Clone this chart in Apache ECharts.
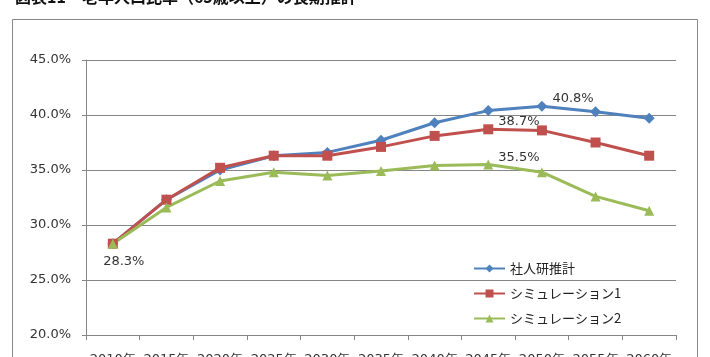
<!DOCTYPE html>
<html lang="ja">
<head>
  <meta charset="UTF-8">
  <title>老年人口比率の長期推計</title>
  <style>
    html, body {margin: 0; padding: 0; background: #fff;}
    #chart {width: 710px; height: 357px;}
  </style>
</head>
<body>
  <div id="chart"></div>
  <script src="https://cdn.jsdelivr.net/npm/echarts@6/dist/echarts.min.js"></script>
  <script>
    // データ（%）
    var years = ['2010年', '2015年', '2020年', '2025年', '2030年', '2035年', '2040年', '2045年', '2050年', '2055年', '2060年'];
    var ipss = [28.3, 32.3, 35.0, 36.3, 36.6, 37.7, 39.3, 40.4, 40.8, 40.3, 39.7];
    var sim1 = [28.3, 32.3, 35.2, 36.3, 36.3, 37.1, 38.1, 38.7, 38.6, 37.5, 36.3];
    var sim2 = [28.3, 31.6, 34.0, 34.8, 34.5, 34.9, 35.4, 35.5, 34.8, 32.6, 31.3];
    var seriesNames = ['社人研推計', 'シミュレーション1', 'シミュレーション2'];

    var latin = '"DejaVu Sans", Verdana, sans-serif';
    var cjk = '"Noto Sans CJK JP", sans-serif';

    // 指定した点だけラベルを出す
    function withLabel(arr, idx, label) {
      return arr.map(function (v, i) {
        if (i !== idx) return v;
        return {value: v, label: Object.assign({show: true}, label)};
      });
    }
    var labelBase = {
      formatter: function (p) { return p.value.toFixed(1) + '%'; },
      fontFamily: latin,
      fontSize: 13,
      color: '#333'
    };

    var chart = echarts.init(document.getElementById('chart'));
    var option = {
      animation: false,
      title: {
        text: '図表11　老年人口比率（65歳以上）の長期推計',
        left: 10,
        top: -16,
        textStyle: {fontFamily: cjk, fontSize: 16, fontWeight: 'bold', color: '#111'}
      },
      graphic: [{
        type: 'rect',
        shape: {x: 12.5, y: 19.5, width: 685, height: 360},
        style: {fill: 'none', stroke: '#888', lineWidth: 1}
      }],
      color: ['#4F81BD', '#C0504D', '#9BBB59'],
      legend: {
        orient: 'vertical',
        left: 468,
        top: 257,
        itemGap: 12,
        itemWidth: 31,
        itemHeight: 10,
        textStyle: {fontFamily: cjk, fontSize: 13, color: '#222'},
        data: seriesNames
      },
      grid: {left: 86, right: 34, top: 60, bottom: 22, outerBoundsMode: 'none', containLabel: false},
      xAxis: {
        type: 'category',
        data: years,
        boundaryGap: true,
        axisLine: {lineStyle: {color: '#868686'}},
        axisTick: {show: true, length: 5, lineStyle: {color: '#868686'}},
        axisLabel: {fontFamily: latin, fontSize: 13, color: '#333', margin: 18, interval: 0}
      },
      yAxis: {
        type: 'value',
        min: 20,
        max: 45,
        interval: 5,
        axisLine: {show: true, lineStyle: {color: '#868686'}},
        axisTick: {show: true, length: 4, lineStyle: {color: '#868686'}},
        splitLine: {lineStyle: {color: '#868686'}},
        axisLabel: {
          fontFamily: latin, fontSize: 13, color: '#333', margin: 15,
          formatter: function (v) { return v.toFixed(1) + '%'; }
        }
      },
      series: [{
        name: seriesNames[0],
        type: 'line',
        symbol: 'diamond',
        symbolSize: 11,
        lineStyle: {width: 3},
        data: withLabel(ipss, 8, Object.assign({position: 'right', offset: [0, -8]}, labelBase))
      }, {
        name: seriesNames[1],
        type: 'line',
        symbol: 'rect',
        symbolSize: 10,
        lineStyle: {width: 3},
        data: withLabel(sim1, 7, Object.assign({position: 'right', offset: [0, -8]}, labelBase))
      }, {
        name: seriesNames[2],
        type: 'line',
        symbol: 'triangle',
        symbolSize: 10,
        lineStyle: {width: 3},
        data: sim2.map(function (v, i) {
          if (i === 7) return {value: v, label: Object.assign({show: true, position: 'right', offset: [0, -7]}, labelBase)};
          if (i === 0) return {value: v, label: Object.assign({show: true, position: 'bottom', distance: 6, offset: [11, 0]}, labelBase)};
          return v;
        })
      }]
    };
    chart.setOption(option);
  </script>
</body>
</html>
